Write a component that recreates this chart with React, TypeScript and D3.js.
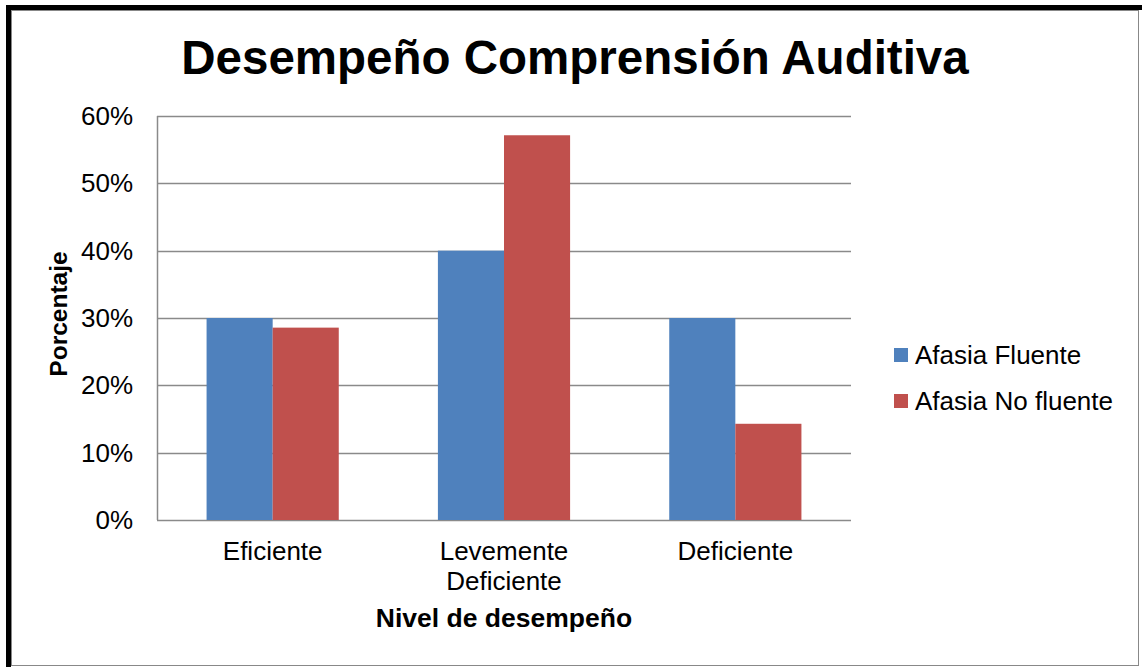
import React from 'react';
import * as d3 from 'd3';

const categories = [['Eficiente'], ['Levemente', 'Deficiente'], ['Deficiente']];
const seriesNames = ['Afasia Fluente', 'Afasia No fluente'];
const fluente = [30, 40, 30];
const noFluente = [28.57, 57.14, 14.29];
const yTicks = [0, 10, 20, 30, 40, 50, 60];
const colors = ['#4F81BD', '#C0504D'];

const W = 1142;
const H = 667;
const plot = { left: 157, right: 851, top: 116, bottom: 520 };
const font = 'Liberation Sans, Arial, sans-serif';

export default function App() {
  const x0 = d3.scaleBand<number>()
    .domain(d3.range(categories.length))
    .range([plot.left, plot.right])
    .paddingInner(0.4286)
    .paddingOuter(0.2143);
  const x1 = d3.scaleBand<number>()
    .domain([0, 1])
    .range([0, x0.bandwidth()]);
  const y = d3.scaleLinear().domain([0, 60]).range([plot.bottom, plot.top]);
  const values = [fluente, noFluente];
  const step = (plot.right - plot.left) / categories.length;

  return (
    <svg width={W} height={H} style={{ position: 'absolute', left: 0, top: 0 }} fontFamily={font}>
      <rect x={0} y={0} width={W} height={H} fill="#fff" />
      <rect x={8.5} y={7.5} width={W} height={H} fill="none" stroke="#000" strokeWidth={5} />
      <rect x={11.5} y={10.5} width={1127} height={655} fill="none" stroke="#888" strokeWidth={1} />

      <text x={575} y={74} textAnchor="middle" fontSize={47.5} fontWeight="bold">
        Desempeño Comprensión Auditiva
      </text>

      {/* gridlines */}
      {yTicks.map((t) => (
        <line key={t} x1={plot.left} x2={plot.right} y1={Math.round(y(t)) + 0.5} y2={Math.round(y(t)) + 0.5}
          stroke="#8a8a8a" strokeWidth={1.5} />
      ))}
      <line x1={plot.left + 0.5} x2={plot.left + 0.5} y1={plot.top} y2={plot.bottom} stroke="#8a8a8a" strokeWidth={1.5} />

      {/* bars */}
      {categories.map((c, i) => (
        <g key={i} transform={`translate(${x0(i)},0)`}>
          {values.map((s, j) => (
            <rect key={j} x={x1(j)} y={y(s[i])} width={x1.bandwidth()} height={plot.bottom - y(s[i])}
              fill={colors[j]} />
          ))}
        </g>
      ))}

      {/* y tick labels */}
      {yTicks.map((t) => (
        <text key={t} x={133} y={y(t) + 9} textAnchor="end" fontSize={26}>{t}%</text>
      ))}

      {/* category labels */}
      {categories.map((lines, i) => (
        <text key={i} x={plot.left + step * (i + 0.5)} y={560} textAnchor="middle" fontSize={26}>
          {lines.map((l, k) => (
            <tspan key={k} x={plot.left + step * (i + 0.5)} dy={k === 0 ? 0 : 30}>{l}</tspan>
          ))}
        </text>
      ))}

      <text x={504} y={627} textAnchor="middle" fontSize={26.5} fontWeight="bold">Nivel de desempeño</text>
      <text transform={`translate(67,${y(30) - 4}) rotate(-90)`} textAnchor="middle" fontSize={24.5} fontWeight="bold">
        Porcentaje
      </text>

      {/* legend */}
      {seriesNames.map((n, j) => (
        <g key={n} transform={`translate(894,${355 + j * 46})`}>
          <rect x={0} y={-7} width={14} height={14} fill={colors[j]} />
          <text x={21} y={9} fontSize={26}>{n}</text>
        </g>
      ))}
    </svg>
  );
}
